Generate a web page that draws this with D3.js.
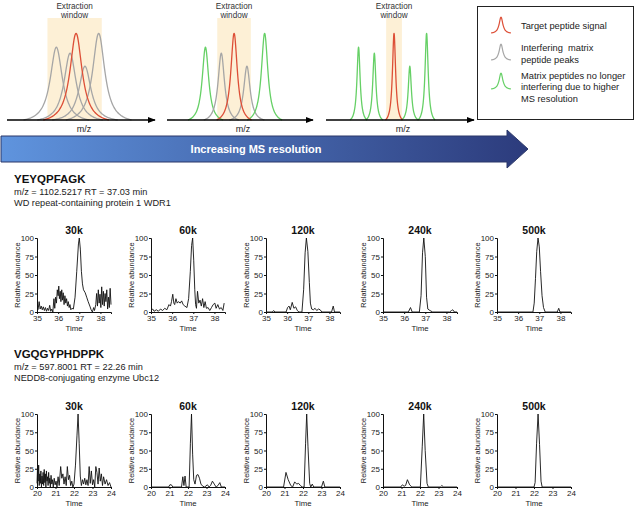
<!DOCTYPE html>
<html><head><meta charset="utf-8">
<script src="https://cdn.jsdelivr.net/npm/d3@7"></script>
<style>
body{margin:0;background:#fff}
svg{display:block;font-family:Arial,"Liberation Sans",sans-serif}
</style>
</head><body>
<svg id="c" width="635" height="508"></svg>
<script>
// ---------------- DATA ----------------
const resolutions = ["30k","60k","120k","240k","500k"];
const yTicks = [0,25,50,75,100];

// Schematic: peaks per panel [m/z, relative height, kind]
const schemPeaks1 = [[33.8,84,"gray"],[43.2,77,"gray"],[53.4,62,"gray"],[62.8,100,"gray"],[47.3,100,"red"]];
const schemPeaks2 = [[26.7,84,"green"],[37.7,77,"gray"],[55.5,62,"gray"],[67.8,100,"green"],[46.6,100,"red"]];
const schemPeaks3 = [[22.3,84,"green"],[33.1,77,"green"],[57.4,62,"green"],[68.9,100,"green"],[46.6,100,"red"]];
const schemWidths = [5.0, 2.7, 1.3];          // peak half-width per resolution step (m/z units)
const schemWindows = [[27.7,64.9],[34.9,58.2],[41.2,52.0]]; // extraction window (m/z units)
const legendLabels = [["Target peptide signal"],["Interfering  matrix","peptide peaks"],["Matrix peptides no longer","interfering due to higher","MS resolution"]];
const legendKinds = ["red","gray","green"];

// Peptide 1
const p1Name = "YEYQPFAGK";
const p1Info = ["m/z = 1102.5217 RT = 37.03 min","WD repeat-containing protein 1 WDR1"];
const p1XTicks = [35,36,37,38];
const p1_30k = [[35.00,2],[35.05,3],[35.10,14],[35.15,4],[35.20,8],[35.25,3],[35.30,7],[35.35,2],[35.40,6],[35.45,1],[35.50,5],[35.55,2],[35.60,9],[35.65,1],[35.70,4],[35.75,0],[35.80,18],[35.84,5],[35.88,20],[35.92,12],[35.96,30],[36.00,22],[36.03,35],[36.06,18],[36.10,28],[36.13,14],[36.17,30],[36.20,16],[36.24,26],[36.28,10],[36.32,22],[36.36,12],[36.40,18],[36.44,8],[36.48,14],[36.52,6],[36.56,10],[36.60,3],[36.65,5],[36.72,4],[36.80,20],[36.88,55],[36.96,92],[37.00,100],[37.05,85],[37.10,55],[37.15,38],[37.20,30],[37.28,26],[37.35,20],[37.42,14],[37.50,8],[37.56,3],[37.62,0],[37.68,6],[37.72,2],[37.78,10],[37.82,25],[37.86,8],[37.90,30],[37.94,12],[37.98,24],[38.02,6],[38.06,34],[38.10,10],[38.14,28],[38.18,8],[38.22,25],[38.26,14],[38.30,30],[38.34,4],[38.38,20],[38.42,6],[38.46,32],[38.50,10]];
const p1_60k = [[35.00,2],[35.08,4],[35.15,1],[35.25,3],[35.35,1],[35.45,4],[35.55,2],[35.65,5],[35.75,3],[35.85,10],[35.92,8],[35.97,14],[36.03,24],[36.08,12],[36.12,10],[36.18,18],[36.24,12],[36.30,14],[36.38,12],[36.45,15],[36.52,10],[36.60,8],[36.70,6],[36.78,18],[36.86,55],[36.92,90],[36.97,100],[37.02,70],[37.07,30],[37.11,10],[37.15,5],[37.20,28],[37.26,12],[37.32,16],[37.38,8],[37.44,18],[37.50,6],[37.56,14],[37.62,5],[37.70,6],[37.78,2],[37.86,6],[37.94,10],[38.02,12],[38.08,5],[38.16,10],[38.24,4],[38.32,6],[38.40,2],[38.46,12]];
const p1_120k = [[35.00,0],[35.30,0],[35.36,2],[35.42,0],[35.95,0],[36.02,6],[36.09,8],[36.15,3],[36.24,13],[36.32,5],[36.40,7],[36.48,2],[36.56,0],[36.70,0],[36.78,30],[36.85,80],[36.91,100],[36.98,82],[37.05,40],[37.10,12],[37.16,4],[37.24,3],[37.32,5],[37.40,2],[37.48,4],[37.56,3],[37.64,0],[38.10,0],[38.18,8],[38.24,0],[38.50,0]];
const p1_240k = [[35.00,0],[36.20,0],[36.30,6],[36.38,0],[36.72,0],[36.80,22],[36.87,80],[36.93,100],[37.00,75],[37.06,20],[37.12,4],[37.22,2],[37.35,0],[38.15,0],[38.24,2],[38.30,3],[38.38,0],[38.50,0]];
const p1_500k = [[35.00,0],[36.70,0],[36.76,12],[36.82,45],[36.88,82],[36.94,100],[37.00,88],[37.06,55],[37.13,22],[37.20,6],[37.28,0],[37.85,0],[37.92,5],[37.98,0],[38.50,0]];

// Peptide 2
const p2Name = "VGQGYPHDPPK";
const p2Info = ["m/z = 597.8001 RT = 22.26 min","NEDD8-conjugating enzyme Ubc12"];
const p2XTicks = [20,21,22,23,24];
const p2_30k = [[20.00,5],[20.03,28],[20.06,8],[20.09,30],[20.12,2],[20.15,18],[20.18,5],[20.21,22],[20.24,0],[20.27,15],[20.30,4],[20.33,20],[20.36,2],[20.39,24],[20.42,6],[20.45,18],[20.48,0],[20.51,22],[20.54,8],[20.57,14],[20.60,2],[20.63,20],[20.66,5],[20.69,12],[20.72,0],[20.76,16],[20.80,4],[20.84,10],[20.88,0],[20.93,12],[20.98,3],[21.03,8],[21.08,0],[21.14,14],[21.20,2],[21.28,28],[21.34,12],[21.40,18],[21.46,4],[21.52,14],[21.58,2],[21.64,28],[21.70,10],[21.76,16],[21.82,2],[21.88,8],[21.94,0],[22.00,4],[22.08,30],[22.16,70],[22.22,100],[22.28,60],[22.34,15],[22.40,2],[22.46,10],[22.52,4],[22.58,12],[22.64,3],[22.70,10],[22.76,2],[22.82,28],[22.88,5],[22.94,22],[23.00,3],[23.06,10],[23.12,0],[23.18,28],[23.24,20],[23.30,4],[23.36,26],[23.42,8],[23.48,18],[23.54,2],[23.60,14],[23.68,4],[23.76,10],[23.84,2],[23.92,6],[24.00,0]];
const p2_60k = [[20.00,0],[20.95,0],[21.02,3],[21.10,3],[21.18,0],[21.65,0],[21.72,14],[21.78,2],[21.84,15],[21.90,0],[22.06,0],[22.13,60],[22.19,100],[22.25,45],[22.31,10],[22.38,4],[22.46,16],[22.54,17],[22.62,12],[22.70,4],[22.80,1],[22.90,0],[23.05,3],[23.14,0],[23.22,2],[23.32,8],[23.42,4],[23.52,0],[23.62,2],[23.72,6],[23.80,0],[24.00,0]];
const p2_120k = [[20.00,0],[20.95,0],[21.08,20],[21.20,10],[21.34,2],[21.44,0],[21.55,7],[21.66,4],[21.76,5],[21.86,2],[21.96,0],[22.06,0],[22.14,60],[22.20,100],[22.27,55],[22.36,5],[22.42,0],[22.50,4],[22.58,0],[23.00,0],[23.10,8],[23.18,0],[24.00,0]];
const p2_240k = [[20.00,0],[20.95,0],[21.05,3],[21.14,1],[21.22,2],[21.32,10],[21.44,3],[21.56,0],[22.02,0],[22.12,55],[22.20,100],[22.28,50],[22.38,5],[22.45,0],[23.10,0],[23.18,2],[23.28,0],[24.00,0]];
const p2_500k = [[20.00,0],[22.00,0],[22.06,6],[22.14,60],[22.22,100],[22.30,58],[22.38,8],[22.44,0],[24.00,0]];

const p1Series = [p1_30k,p1_60k,p1_120k,p1_240k,p1_500k];
const p2Series = [p2_30k,p2_60k,p2_120k,p2_240k,p2_500k];

// ---------------- DRAWING ----------------
const svg = d3.select("#c");
const colors = {red:"#dd4f37", gray:"#a6a6a6", green:"#66d066"};
const FONT = "Arial, 'Liberation Sans', sans-serif";

const defs = svg.append("defs");
defs.append("marker").attr("id","ah").attr("viewBox","0 0 10 10").attr("refX",9).attr("refY",5)
  .attr("markerWidth",5).attr("markerHeight",5).attr("orient","auto")
  .append("path").attr("d","M0,1 L10,5 L0,9 z").attr("fill","#000");

const schemAxes = [[7,153],[167,311],[326,472]];
const schemPeaks = [schemPeaks1,schemPeaks2,schemPeaks3];
const baseY = 120, topY = 33;

function peakPoints(center, height, gamma){
  const c = 1/(1+4.5*4.5);
  const pts = [];
  for (let k=-45;k<=45;k++){
    const t = k/10;
    const v = Math.max(0,(1/(1+t*t)-c)/(1-c));
    pts.push([center + t*gamma, v*height]);
  }
  return pts;
}

schemAxes.forEach((r,i)=>{
  const xs = d3.scaleLinear().domain([0,100]).range(r);
  const ys = d3.scaleLinear().domain([0,100]).range([baseY,topY]);
  const w = schemWindows[i];
  svg.append("rect").attr("x",xs(w[0])).attr("y",18).attr("width",xs(w[1])-xs(w[0]))
    .attr("height",baseY-18).attr("fill","#fdf0d6");
  const cx = (xs(w[0])+xs(w[1]))/2;
  svg.append("text").attr("x",cx).attr("y",8.5).attr("text-anchor","middle").attr("font-size",8.2).attr("fill","#333").text("Extraction");
  svg.append("text").attr("x",cx).attr("y",18).attr("text-anchor","middle").attr("font-size",8.2).attr("fill","#333").text("window");
  const line = d3.line().x(d=>xs(d[0])).y(d=>ys(d[1])).curve(d3.curveBasis);
  schemPeaks[i].forEach(p=>{
    svg.append("path").attr("d",line(peakPoints(p[0],p[1],schemWidths[i])))
      .attr("fill","none").attr("stroke",colors[p[2]]).attr("stroke-width",1.3);
  });
  svg.append("line").attr("x1",r[0]).attr("x2",r[1]+2).attr("y1",baseY).attr("y2",baseY)
    .attr("stroke","#000").attr("stroke-width",1.6).attr("marker-end","url(#ah)");
  svg.append("text").attr("x",(r[0]+r[1])/2+4).attr("y",132).attr("text-anchor","middle").attr("font-size",9).attr("fill","#222").text("m/z");
});

// Legend
svg.append("rect").attr("x",477.5).attr("y",6.5).attr("width",156).attr("height",113)
  .attr("fill","#fff").attr("stroke","#222").attr("stroke-width",1);
const legTops = [17,44,73];
const legTextY = [[29],[51,63],[79,90,102]];
legendKinds.forEach((k,i)=>{
  const xs = d3.scaleLinear().domain([-10,10]).range([491,511]);
  const ys = d3.scaleLinear().domain([0,100]).range([legTops[i]+16,legTops[i]]);
  const line = d3.line().x(d=>xs(d[0])).y(d=>ys(d[1])).curve(d3.curveBasis);
  svg.append("path").attr("d",line(peakPoints(0,100,2.2))).attr("fill","none").attr("stroke",colors[k]).attr("stroke-width",1.2);
  legendLabels[i].forEach((t,j)=>{
    svg.append("text").attr("x",521).attr("y",legTextY[i][j]).attr("font-size",9.3).attr("fill","#222").style("white-space","pre").text(t);
  });
});

// Big arrow
const grad = defs.append("linearGradient").attr("id","bg").attr("x1","0").attr("x2","1").attr("y1","0").attr("y2","0");
grad.append("stop").attr("offset","0").attr("stop-color","#5f94de");
grad.append("stop").attr("offset","1").attr("stop-color","#2c3b7c");
svg.append("path").attr("d","M1,136 L507,136 L507,130 L528,149 L507,168 L507,162 L1,162 Z")
  .attr("fill","url(#bg)").attr("stroke","#2a3768").attr("stroke-width",1);
svg.append("text").attr("x",256).attr("y",152.5).attr("text-anchor","middle").attr("font-size",11)
  .attr("font-weight","bold").attr("fill","#fff").text("Increasing MS resolution");

// Chromatogram rows
const panelX = [37,151,266,383,497];
const W = 74;
function drawRow(name, info, series, domain, xt, headY, top, bottom){
  svg.append("text").attr("x",14).attr("y",headY).attr("font-size",11.5).attr("font-weight","bold").attr("fill","#111").text(name);
  info.forEach((t,j)=>svg.append("text").attr("x",14).attr("y",headY+11.5+j*11.5).attr("font-size",9.2).attr("fill","#222").text(t));
  series.forEach((data,i)=>{
    const x = d3.scaleLinear().domain(domain).range([panelX[i],panelX[i]+W]);
    const y = d3.scaleLinear().domain([0,100]).range([bottom,top]);
    const g = svg.append("g");
    g.append("path").attr("d",d3.line().x(d=>x(d[0])).y(d=>y(d[1]))(data))
      .attr("fill","none").attr("stroke","#111").attr("stroke-width",0.9).attr("stroke-linejoin","round");
    const ya = g.append("g").attr("transform",`translate(${panelX[i]},0)`)
      .call(d3.axisLeft(y).tickValues(yTicks).tickSize(2).tickPadding(1).tickFormat(d3.format("d")));
    const xa = g.append("g").attr("transform",`translate(0,${bottom})`)
      .call(d3.axisBottom(x).tickValues(xt).tickSize(2).tickPadding(1).tickFormat(d3.format("d")));
    [ya,xa].forEach(a=>{
      a.selectAll("text").attr("font-size",8).attr("font-family",FONT).attr("fill","#222");
      a.select(".domain").attr("stroke","#111");
      a.selectAll(".tick line").attr("stroke","#111");
    });
    g.append("text").attr("x",panelX[i]+W/2).attr("y",top-4).attr("text-anchor","middle")
      .attr("font-size",10.5).attr("font-weight","bold").attr("fill","#111").text(resolutions[i]);
    g.append("text").attr("transform",`translate(${panelX[i]-17},${(top+bottom)/2}) rotate(-90)`)
      .attr("text-anchor","middle").attr("font-size",7.4).attr("fill","#222").text("Relative abundance");
    g.append("text").attr("x",panelX[i]+W/2).attr("y",bottom+19).attr("text-anchor","middle")
      .attr("font-size",7.8).attr("fill","#222").text("Time");
  });
}
drawRow(p1Name,p1Info,p1Series,[35,38.5],p1XTicks,183,238,312);
drawRow(p2Name,p2Info,p2Series,[20,24],p2XTicks,358,414,487);
</script>
</body></html>
